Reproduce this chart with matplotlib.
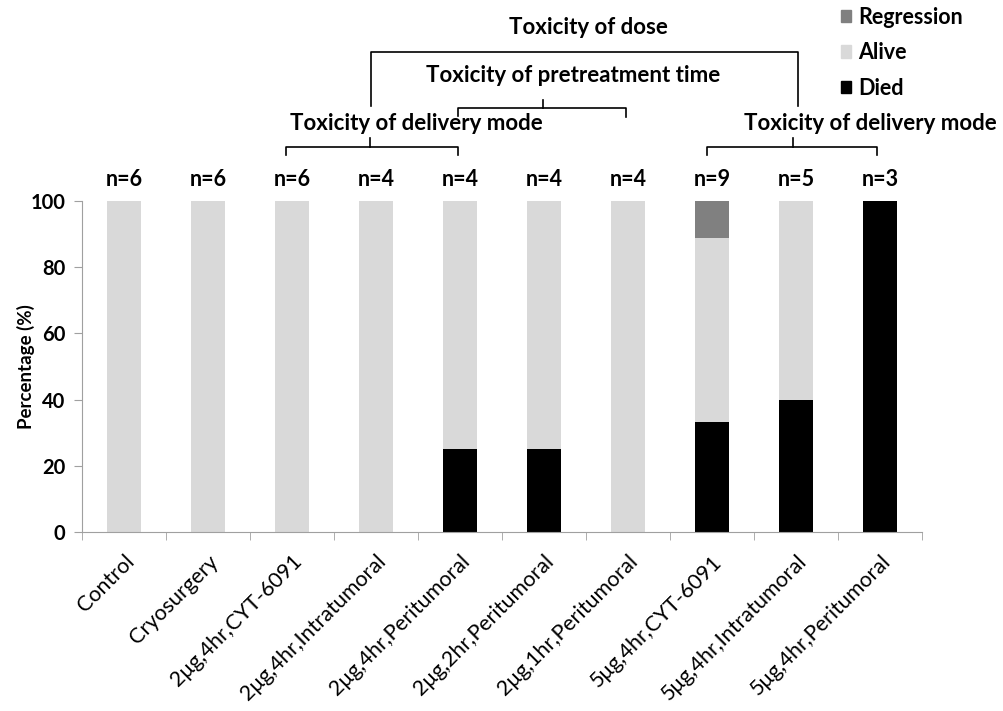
import matplotlib
matplotlib.use("Agg")
import matplotlib.pyplot as plt
import numpy as np
from matplotlib.patches import Patch

categories = ["Control", "Cryosurgery", "2μg,4hr,CYT-6091", "2μg,4hr,Intratumoral",
              "2μg,4hr,Peritumoral", "2μg,2hr,Peritumoral", "2μg,1hr,Peritumoral",
              "5μg,4hr,CYT-6091", "5μg,4hr,Intratumoral", "5μg,4hr,Peritumoral"]
died = [0, 0, 0, 0, 25, 25, 0, 33.3, 40, 100]
alive = [100, 100, 100, 100, 75, 75, 100, 55.6, 60, 0]
regression = [0, 0, 0, 0, 0, 0, 0, 11.1, 0, 0]
n_labels = ["n=6", "n=6", "n=6", "n=4", "n=4", "n=4", "n=4", "n=9", "n=5", "n=3"]
yticks = [0, 20, 40, 60, 80, 100]

FONT = ["Lato", "DejaVu Sans"]
plt.rcParams['font.family'] = FONT

W, H = 1004, 711
fig = plt.figure(figsize=(W / 100, H / 100), dpi=100)
ax = fig.add_axes([82 / W, 1 - 532 / H, (922 - 82) / W, (532 - 201) / H])

x = np.arange(len(categories))
bw = 0.4
c_died, c_alive, c_reg = "#000000", "#d9d9d9", "#808080"
ax.bar(x, died, bw, color=c_died, label="Died")
ax.bar(x, alive, bw, bottom=died, color=c_alive, label="Alive")
bot2 = np.array(died) + np.array(alive)
ax.bar(x, regression, bw, bottom=bot2, color=c_reg, label="Regression")

ax.set_xlim(-0.5, len(categories) - 0.5)
ax.set_ylim(0, 100)
ax.set_yticks(yticks)
ax.set_yticklabels([str(v) for v in yticks], fontsize=14.5, fontweight="bold")
ax.set_xticks(x)
ax.set_xticklabels(categories, rotation=45, ha="right", rotation_mode="anchor",
                   fontsize=15.5)
ax.tick_params(axis="x", which="major", length=0, pad=14)
ax.set_xticks(np.arange(-0.5, len(categories)), minor=True)
ax.tick_params(axis="x", which="minor", length=6, color="#a0a0a0")
ax.tick_params(axis="y", length=6, color="#a0a0a0", pad=6)
for s in ["top", "right"]:
    ax.spines[s].set_visible(False)
for s in ["left", "bottom"]:
    ax.spines[s].set_color("#a0a0a0")
ax.set_ylabel("Percentage (%)", fontsize=13.5, fontweight="bold", labelpad=-3)

for xi, lab in zip(x, n_labels):
    ax.text(xi, 106.5, lab, ha="center", va="center", fontsize=15.5, fontweight="bold")

def px(xp, yp):
    return xp / W, 1 - yp / H

def line(pts, lw=1.2):
    xs = [p[0] / W for p in pts]
    ys = [1 - p[1] / H for p in pts]
    fig.add_artist(plt.Line2D(xs, ys, color="black", lw=lw, transform=fig.transFigure))

def txt(xp, yp, s):
    fig.text(*px(xp, yp), s, ha="center", va="center", fontsize=16, fontweight="bold")

# big dose bracket
line([(371, 106), (371, 52), (798, 52), (798, 106)])
txt(588, 28, "Toxicity of dose")
# pretreatment bracket
line([(458, 116), (458, 108), (626, 108), (626, 117)])
line([(543, 100), (543, 108)])
txt(573, 75, "Toxicity of pretreatment time")
# left delivery mode
line([(286, 155), (286, 147), (458, 147), (458, 155)])
line([(370, 138), (370, 147)])
txt(416, 124, "Toxicity of delivery mode")
# right delivery mode
line([(707, 155), (707, 147), (877, 147), (877, 155)])
line([(793, 138), (793, 147)])
txt(870, 124, "Toxicity of delivery mode")

handles = [Patch(color=c_reg, label="Regression"), Patch(color=c_alive, label="Alive"),
           Patch(color=c_died, label="Died")]
leg = fig.legend(handles=handles, loc="upper left", bbox_to_anchor=(832 / W, 1 + 2 / H),
                 frameon=False, handlelength=0.5, handleheight=0.5,
                 handletextpad=0.3, labelspacing=0.68, borderaxespad=0,
                 prop={"weight": "bold", "size": 15.5})

fig.savefig("out.png", dpi=100)
